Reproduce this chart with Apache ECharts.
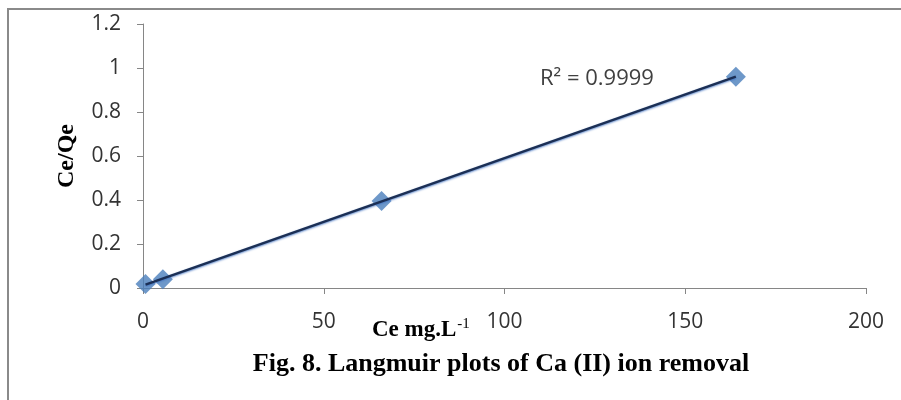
<!DOCTYPE html>
<html><head><meta charset="utf-8">
<script src="https://cdn.jsdelivr.net/npm/echarts@6/dist/echarts.min.js"></script>
<style>html,body{margin:0;padding:0;background:#fff}#c{width:901px;height:400px}</style>
</head><body><div id="c"></div>
<script>
var ceValues = [0.7, 5.5, 66, 164];
var ceQeValues = [0.018, 0.04, 0.395, 0.96];
var xTicks = [0, 50, 100, 150, 200];
var yTicks = [0, 0.2, 0.4, 0.6, 0.8, 1, 1.2];
var r2Text = 'R² = 0.9999';
var xName = 'Ce mg.L';
var yName = 'Ce/Qe';
var caption = 'Fig. 8. Langmuir plots of Ca (II) ion removal';

// least squares trendline from the data
var n = ceValues.length, sx = 0, sy = 0, sxx = 0, sxy = 0;
for (var i = 0; i < n; i++) { sx += ceValues[i]; sy += ceQeValues[i]; sxx += ceValues[i]*ceValues[i]; sxy += ceValues[i]*ceQeValues[i]; }
var slope = (n*sxy - sx*sy) / (n*sxx - sx*sx);
var icpt = (sy - slope*sx) / n;
var xmin = Math.min.apply(null, ceValues), xmax = Math.max.apply(null, ceValues);
var trend = [[xmin, icpt + slope*xmin], [xmax, icpt + slope*xmax]];

var chart = echarts.init(document.getElementById('c'));
chart.setOption({
  animation: false,
  grid: {left: 143, right: 35, top: 24, bottom: 112},
  title: {text: caption, left: 496, top: 346, textAlign: 'center',
    textStyle: {fontFamily: 'Liberation Serif', fontWeight: 'bold', fontSize: 26, color: '#000'}},
  xAxis: {type: 'value', min: 0, max: 200, interval: 50,
    axisLine: {lineStyle: {color: '#868686', width: 1}},
    axisTick: {show: true, length: 6, lineStyle: {color: '#868686'}},
    splitLine: {show: false},
    axisLabel: {margin: 24, fontFamily: 'Open Sans', fontSize: 21, color: '#333'}},
  yAxis: {type: 'value', min: 0, max: 1.2, interval: 0.2,
    name: yName, nameLocation: 'middle', nameGap: 64, nameRotate: 90,
    nameTextStyle: {fontFamily: 'Liberation Serif', fontWeight: 'bold', fontSize: 24, color: '#000'},
    axisLine: {show: true, lineStyle: {color: '#868686', width: 1}},
    axisTick: {show: true, length: 6, lineStyle: {color: '#868686'}},
    splitLine: {show: false},
    axisLabel: {margin: 22, fontFamily: 'Open Sans', fontSize: 21, color: '#333',
      formatter: function (v) { return String(Math.round(v*10)/10); }}},
  graphic: [
    {type: 'rect', left: 7, top: 8, shape: {width: 2, height: 392}, style: {fill: '#8a8a8a'}},
    {type: 'rect', left: 7, top: 8, shape: {width: 894, height: 2}, style: {fill: '#8a8a8a'}},
    {type: 'text', left: 372, top: 317, style: {
      text: '{b|' + xName + '}{s|-1}',
      rich: {b: {fontFamily: 'Liberation Serif', fontWeight: 'bold', fontSize: 23, fill: '#000', verticalAlign: 'bottom'},
             s: {fontFamily: 'Liberation Serif', fontSize: 15, fill: '#000', verticalAlign: 'top', padding: [0,0,10,1]}}}},
    {type: 'text', left: 540, top: 68, style: {text: r2Text, fontFamily: 'Open Sans', fontSize: 22, fill: '#404040'}}
  ],
  series: [
    {type: 'scatter', data: ceValues.map(function (x, i) { return [x, ceQeValues[i]]; }),
      symbol: 'diamond', symbolSize: 20, itemStyle: {color: '#4a7ebb'}, z: 2},
    {type: 'line', data: trend, symbol: 'none',
      lineStyle: {color: '#1b2f55', width: 2.5, shadowColor: 'rgba(60,110,190,0.8)', shadowBlur: 2, shadowOffsetY: 1}, z: 3}
  ]
});
</script></body></html>
